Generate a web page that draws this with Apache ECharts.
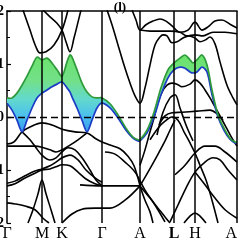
<!DOCTYPE html>
<html>
<head>
<meta charset="utf-8">
<script src="https://cdn.jsdelivr.net/npm/echarts@6/dist/echarts.min.js"></script>
<style>
  html, body { margin: 0; padding: 0; background: #fff; }
  #chart { width: 240px; height: 241px; }
</style>
</head>
<body>
<div id="chart"></div>
<script>
// high-symmetry points along the k path
var kTicks = [0, 35, 55, 95, 133, 167, 188, 230];
var kLabels = ['Γ', 'M', 'K', 'Γ', 'A', 'L', 'H', 'A'];
var yTicks = [-2, -1, 0, 1, 2];

// highlighted pair of bands (shared k grid)
var bandK = [0, 5, 10, 15, 20, 25, 30, 35, 40, 45, 50, 55, 60, 63, 65, 70, 75, 80, 85, 90, 95,
  103, 111, 119, 126, 131, 133, 140, 147, 154, 161, 167, 173, 178, 183, 186, 190, 195, 200, 205,
  211, 217, 223, 228, 230];
var greenBand = [0.36, 0.36, 0.45, 0.60, 0.77, 0.96, 1.13, 1.08, 1.11, 1.02, 0.89, 0.77, 1.04, 1.17,
  1.13, 0.89, 0.64, 0.47, 0.38, 0.36, 0.36, 0.25, 0.04, -0.21, -0.38, -0.43, -0.43, -0.25, 0.09,
  0.55, 0.89, 1.02, 1.11, 1.17, 1.08, 1.02, 1.08, 1.17, 0.98, 0.51, 0.04, -0.21, -0.40, -0.47, -0.47];
var blueBand = [0.26, 0.13, -0.06, -0.28, -0.06, 0.17, 0.36, 0.45, 0.51, 0.57, 0.62, 0.66, 0.55, 0.47,
  0.38, 0.17, -0.06, -0.28, -0.06, 0.17, 0.26, 0.17, -0.02, -0.25, -0.40, -0.45, -0.45, -0.30, 0,
  0.42, 0.74, 0.89, 0.94, 0.92, 0.85, 0.83, 0.85, 0.94, 0.85, 0.42, 0, -0.25, -0.42, -0.49, -0.49];

// other bands, [k, E]
var u1 = [[16, 2.02], [23, 1.64], [29, 1.32], [33, 1.21], [39, 1.23], [47, 1.36], [55, 1.64], [61, 2.02]];
var u2 = [[36, 2.02], [43, 1.89], [50, 1.77], [55, 1.64], [59, 1.42], [63, 1.23], [67, 1.49], [71, 1.79], [74, 2.02]];
var u3 = [[100, 2.02], [105, 1.74], [111, 1.36], [117, 0.98], [123, 0.64], [128, 0.40], [133, 0.26], [138, 0.55],
  [143, 0.98], [148, 1.36], [153, 1.51], [156, 1.55], [160, 1.53], [165, 1.40], [170, 1.42], [176, 1.49],
  [182, 1.53], [188, 1.49], [193, 1.42], [198, 1.45], [203, 1.51], [208, 1.38], [213, 1.04], [220, 0.60],
  [226, 0.36], [230, 0.23]];
var t1 = [[125, 2.02], [129, 1.83], [133, 1.64], [139, 1.74], [146, 1.81], [153, 1.85], [159, 1.81], [165, 1.72],
  [173, 1.60], [181, 1.64], [188, 1.79], [195, 1.64], [201, 1.70], [208, 1.81], [215, 1.83], [223, 1.75], [230, 1.68]];
var t2 = [[133, 1.64], [143, 1.62], [153, 1.62], [163, 1.62], [173, 1.60], [180, 1.53], [188, 1.55], [196, 1.53],
  [206, 1.60], [218, 1.60], [230, 1.57]];
var d1 = [[133, -0.91], [138, -0.62], [143, -0.28], [147, -0.02], [150, 0.21], [155, 0.47], [160, 0.60], [165, 0.64],
  [170, 0.62], [175, 0.57], [183, 0.62], [188, 0.70], [193, 0.64], [198, 0.51], [203, 0.36], [208, 0.19],
  [213, 0.02], [219, -0.19], [225, -0.40], [230, -0.55]];
var lam = [[150, -0.34], [156, 0.09], [163, 0.36], [168, 0.42], [173, 0.17], [179, -0.15], [186, -0.45]];
var t3 = [[152, -0.15], [158, 0.02], [165, 0.08], [175, 0.09], [190, 0.11], [203, 0.13], [210, 0.06], [216, -0.06]];
var r1 = [[143, -0.43], [151, -0.21], [158, -0.08], [165, 0], [171, -0.06], [177, -0.28], [183, -0.49], [188, -0.68],
  [193, -0.91], [199, -1.19], [205, -1.57], [211, -2.0]];
var r2 = [[168, -1.09], [178, -0.91], [188, -0.68], [198, -0.55], [208, -0.55], [218, -0.66], [230, -0.85]];
var r3 = [[163, -1.98], [171, -1.66], [179, -1.34], [188, -1.04], [198, -0.85], [206, -0.77], [213, -0.81],
  [221, -1.0], [230, -1.19]];
var r4 = [[188, -1.04], [198, -1.28], [208, -1.53], [218, -1.75], [230, -1.91]];
var r5 = [[177, -2.0], [183, -1.87], [188, -1.81], [193, -1.87], [199, -2.0]];
var n1 = [[0, -0.51], [7, -0.47], [15, -0.28], [23, -0.19], [35, -0.11], [45, -0.15], [55, -0.23], [68, -0.28],
  [80, -0.30], [88, -0.40], [95, -0.47], [103, -0.53], [113, -0.60], [121, -0.74], [127, -0.92], [133, -1.30]];
var n2 = [[15, -0.28], [23, -0.43], [29, -0.58], [35, -0.72], [43, -0.81], [49, -0.77], [55, -0.66], [61, -0.58],
  [68, -0.62], [75, -0.77], [83, -1.0], [89, -1.19], [95, -1.30]];
var n3 = [[0, -0.55], [13, -0.55], [28, -0.55], [35, -0.57], [43, -0.62], [49, -0.66], [55, -0.62], [63, -0.53],
  [71, -0.43], [80, -0.30]];
var n4 = [[0, -1.25], [8, -1.21], [18, -1.11], [28, -1.02], [35, -0.98], [43, -0.92], [49, -0.85], [55, -0.77],
  [63, -0.72], [71, -0.81], [79, -1.0], [88, -1.15], [95, -1.23]];
var n5 = [[0, -1.30], [8, -1.26], [18, -1.15], [28, -1.06], [35, -1.0], [43, -0.98], [49, -0.94], [55, -0.90],
  [63, -0.92], [71, -1.04], [79, -1.17], [88, -1.26], [95, -1.30]];
var tent = [[21, -2.0], [26, -1.75], [31, -1.45], [35, -1.19], [39, -1.45], [44, -1.75], [48, -2.0]];
var l6 = [[0, -1.62], [8, -1.64], [18, -1.68], [28, -1.75], [36, -1.91], [42, -2.0]];
var l7 = [[55, -2.0], [65, -1.83], [75, -1.74], [88, -1.72], [103, -1.72], [118, -1.57], [133, -1.30]];
var l8 = [[73, -1.28], [95, -1.30], [133, -1.30]];
var f1 = [[133, -1.30], [143, -1.53], [151, -1.72], [159, -1.91], [163, -2.0]];
var f2 = [[133, -1.30], [138, -1.57], [143, -1.79], [146, -2.0]];
var f3 = [[133, -1.30], [141, -1.04], [149, -0.77], [157, -0.49], [163, -0.25], [168, -0.06]];
var g1 = [[98, -0.66], [108, -0.70], [118, -0.85], [128, -1.04], [138, -1.38], [148, -1.66], [158, -1.98]];

var blackBands = [u1, u2, u3, t1, t2, d1, lam, t3, r1, r2, r3, r4, r5, n1, n2, n3, n4, n5, tent, l6, l7, l8,
  f1, f2, f3, g1];

var serif = 'Liberation Serif, Times New Roman, serif';
var myChart = echarts.init(document.getElementById('chart'));

var series = blackBands.map(function (b) {
  return {
    type: 'line',
    data: b,
    smooth: 0.35,
    showSymbol: false,
    silent: true,
    z: 2,
    lineStyle: { color: '#000', width: 1.6 }
  };
});

// reference lines: Fermi level and high-symmetry points
series.push({
  type: 'line',
  data: [],
  silent: true,
  z: 1,
  markLine: {
    silent: true,
    symbol: 'none',
    label: { show: false },
    data: [
      { yAxis: 0, lineStyle: { color: '#000', width: 1.3, type: [7, 4] } }
    ].concat(kTicks.slice(1).map(function (k) {
      return { xAxis: k, lineStyle: { color: '#000', width: 1.5, type: 'solid' } };
    }))
  }
});

// highlighted bands: fill between them plus the two edge lines
series.push({
  type: 'custom',
  data: [0],
  clip: true,
  silent: true,
  z: 3,
  renderItem: function (params, api) {
    var top = bandK.map(function (k, i) { return api.coord([k, greenBand[i]]); });
    var bot = bandK.map(function (k, i) { return api.coord([k, blueBand[i]]); });
    var ys = top.concat(bot).map(function (p) { return p[1]; });
    var y0 = Math.min.apply(null, ys), y1 = Math.max.apply(null, ys);
    return {
      type: 'group',
      children: [{
        type: 'polygon',
        shape: { points: top.concat(bot.slice().reverse()), smooth: 0.3 },
        style: {
          fill: new echarts.graphic.LinearGradient(0, y0, 0, y1, [
            { offset: 0, color: '#6ce36a' },
            { offset: 0.3, color: '#72e08a' },
            { offset: 0.5, color: '#62d9cc' },
            { offset: 0.7, color: '#4bbff0' },
            { offset: 1, color: '#2b7fe8' }
          ], true)
        }
      }, {
        type: 'polyline',
        shape: { points: bot, smooth: 0.3 },
        style: { fill: null, stroke: '#1c3cc4', lineWidth: 1.7 }
      }, {
        type: 'polyline',
        shape: { points: top, smooth: 0.3 },
        style: { fill: null, stroke: '#2f9a3c', lineWidth: 1.7 }
      }]
    };
  }
});

var option = {
  animation: false,
  title: {
    text: '(l)',
    left: 'center',
    top: -4,
    textStyle: { fontFamily: serif, fontWeight: 'bold', fontSize: 13, color: '#000' }
  },
  grid: { left: 7, right: 3, top: 11, bottom: 18, outerBoundsMode: 'none', containLabel: false },
  xAxis: [{
    type: 'value',
    min: 0,
    max: 230,
    axisLine: { show: false },
    axisTick: { show: false },
    splitLine: { show: false },
    axisLabel: {
      customValues: kTicks,
      margin: 3,
      alignMaxLabel: 'right',
      fontFamily: serif,
      fontSize: 16,
      color: '#000',
      formatter: function (v) {
        var i = kTicks.indexOf(v);
        var s = i >= 0 ? kLabels[i] : '';
        return s === 'L' ? '{b|L}' : s;
      },
      rich: { b: { fontFamily: serif, fontSize: 16, fontWeight: 'bold', color: '#000' } }
    }
  }, {
    type: 'value',
    position: 'top',
    min: 0,
    max: 230,
    axisLine: { show: true, onZero: false, lineStyle: { color: '#000', width: 1.5 } },
    axisTick: { show: false },
    axisLabel: { show: false },
    splitLine: { show: false }
  }],
  yAxis: {
    type: 'value',
    min: -2,
    max: 2,
    interval: 1,
    axisLine: { show: true, lineStyle: { color: '#000', width: 1.5 } },
    axisTick: { show: true, inside: true, length: 4, lineStyle: { color: '#000', width: 1.2 } },
    minorTick: { show: true, splitNumber: 2, length: 3, lineStyle: { color: '#000', width: 1 } },
    splitLine: { show: false },
    axisLabel: {
      margin: 3,
      fontFamily: serif,
      fontWeight: 'bold',
      fontSize: 14,
      color: '#000',
      formatter: function (v) { return yTicks.indexOf(v) >= 0 ? String(Math.abs(v)) : ''; }
    }
  },
  series: series
};

myChart.setOption(option);
</script>
</body>
</html>
